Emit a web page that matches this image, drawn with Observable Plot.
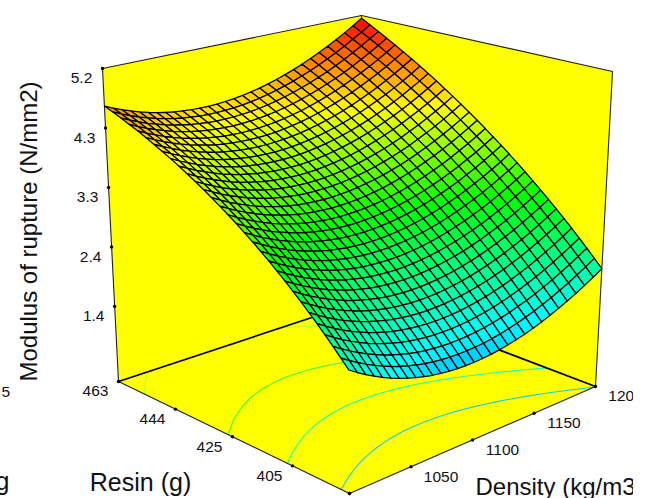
<!DOCTYPE html>
<html><head><meta charset="utf-8">
<style>html,body{margin:0;padding:0;background:#fff;overflow:hidden}svg{display:block}</style>
<script src="https://cdn.jsdelivr.net/npm/d3@7"></script>
<script src="https://cdn.jsdelivr.net/npm/@observablehq/plot@0.6"></script>
</head><body><div id="c"></div><script>
const densityDomain=[1000,1200], resinDomain=[463,386], zDomain=[0.2,5.2];
const zTicks=[1.4,2.35,3.3,4.25,5.2], zLabels=["1.4","2.4","3.3","4.3","5.2"];
const resinTicks=[463,444,425,405,386], densityTicks=[1000,1050,1100,1150,1200];
// Modulus of rupture: one row per resin step (463 -> 386 g),
// one column per density step (1000 -> 1200 kg/m3).
const surface=[
[4.600,4.538,4.481,4.430,4.385,4.345,4.311,4.282,4.259,4.241,4.229,4.222,4.221,4.226,4.236,4.251,4.272,4.299,4.331,4.369,4.412,4.461,4.515,4.575,4.641,4.712,4.788,4.870,4.958,5.051,5.150],
[4.544,4.481,4.423,4.371,4.325,4.284,4.249,4.219,4.195,4.177,4.164,4.156,4.154,4.158,4.167,4.182,4.202,4.228,4.260,4.297,4.339,4.387,4.441,4.500,4.565,4.635,4.711,4.792,4.879,4.971,5.069],
[4.485,4.421,4.363,4.310,4.263,4.221,4.185,4.155,4.130,4.110,4.097,4.088,4.086,4.089,4.097,4.111,4.130,4.155,4.186,4.222,4.264,4.311,4.364,4.423,4.486,4.556,4.631,4.712,4.798,4.890,4.987],
[4.424,4.359,4.300,4.247,4.199,4.156,4.119,4.088,4.062,4.042,4.028,4.019,4.015,4.017,4.025,4.038,4.057,4.081,4.111,4.146,4.187,4.234,4.286,4.344,4.407,4.476,4.550,4.630,4.715,4.806,4.903],
[4.361,4.295,4.235,4.181,4.132,4.089,4.051,4.019,3.993,3.972,3.956,3.946,3.942,3.944,3.950,3.963,3.981,4.004,4.034,4.068,4.109,4.154,4.206,4.263,4.325,4.394,4.467,4.546,4.631,4.722,4.818],
[4.295,4.229,4.168,4.113,4.064,4.020,3.981,3.948,3.921,3.899,3.883,3.873,3.868,3.869,3.875,3.886,3.904,3.927,3.955,3.989,4.029,4.074,4.125,4.181,4.243,4.311,4.384,4.462,4.547,4.636,4.732],
[4.227,4.160,4.099,4.043,3.993,3.948,3.909,3.875,3.847,3.825,3.808,3.797,3.791,3.791,3.797,3.808,3.824,3.846,3.874,3.908,3.947,3.991,4.041,4.097,4.158,4.225,4.297,4.375,4.459,4.548,4.643],
[4.157,4.089,4.027,3.971,3.920,3.874,3.834,3.800,3.771,3.748,3.731,3.719,3.713,3.712,3.717,3.727,3.743,3.765,3.792,3.824,3.863,3.907,3.956,4.011,4.072,4.138,4.210,4.287,4.370,4.459,4.553],
[4.085,4.016,3.954,3.896,3.845,3.798,3.758,3.723,3.694,3.670,3.652,3.639,3.632,3.631,3.635,3.645,3.660,3.681,3.708,3.740,3.777,3.821,3.870,3.924,3.984,4.050,4.121,4.198,4.280,4.368,4.462],
[4.010,3.941,3.878,3.820,3.767,3.720,3.679,3.644,3.614,3.589,3.571,3.557,3.550,3.548,3.551,3.560,3.575,3.596,3.622,3.653,3.690,3.733,3.781,3.835,3.895,3.960,4.031,4.107,4.189,4.276,4.369],
[3.933,3.864,3.799,3.741,3.688,3.640,3.598,3.562,3.532,3.507,3.487,3.473,3.465,3.462,3.465,3.474,3.488,3.508,3.533,3.564,3.601,3.643,3.691,3.744,3.803,3.868,3.938,4.013,4.095,4.182,4.274],
[3.854,3.784,3.719,3.660,3.606,3.558,3.516,3.479,3.448,3.422,3.402,3.388,3.379,3.376,3.378,3.386,3.400,3.419,3.444,3.474,3.510,3.552,3.599,3.652,3.710,3.774,3.844,3.919,4.000,4.086,4.179],
[3.773,3.702,3.636,3.576,3.522,3.474,3.431,3.393,3.361,3.335,3.315,3.300,3.290,3.287,3.289,3.296,3.309,3.328,3.352,3.382,3.418,3.459,3.505,3.558,3.616,3.679,3.749,3.823,3.904,3.990,4.081],
[3.689,3.618,3.551,3.491,3.436,3.387,3.344,3.306,3.273,3.247,3.225,3.210,3.200,3.196,3.197,3.204,3.217,3.235,3.259,3.288,3.323,3.364,3.410,3.462,3.519,3.583,3.651,3.726,3.806,3.891,3.982],
[3.603,3.531,3.464,3.404,3.348,3.298,3.254,3.216,3.183,3.156,3.134,3.118,3.108,3.103,3.104,3.110,3.122,3.140,3.163,3.192,3.227,3.267,3.313,3.364,3.422,3.484,3.553,3.626,3.706,3.791,3.882],
[3.515,3.442,3.375,3.314,3.258,3.208,3.163,3.124,3.091,3.063,3.041,3.024,3.014,3.008,3.009,3.015,3.026,3.044,3.067,3.095,3.129,3.169,3.214,3.265,3.322,3.384,3.452,3.526,3.605,3.690,3.780],
[3.425,3.351,3.284,3.222,3.165,3.115,3.070,3.030,2.996,2.968,2.945,2.928,2.917,2.911,2.911,2.917,2.928,2.945,2.968,2.996,3.029,3.069,3.114,3.164,3.221,3.282,3.350,3.423,3.502,3.586,3.676],
[3.332,3.258,3.190,3.128,3.071,3.020,2.974,2.934,2.900,2.871,2.848,2.831,2.819,2.813,2.813,2.818,2.829,2.845,2.867,2.895,2.928,2.967,3.012,3.062,3.118,3.179,3.247,3.319,3.398,3.482,3.572],
[3.237,3.163,3.094,3.031,2.974,2.922,2.876,2.836,2.801,2.772,2.749,2.731,2.719,2.712,2.712,2.716,2.727,2.743,2.765,2.792,2.825,2.864,2.908,2.958,3.014,3.075,3.142,3.214,3.292,3.376,3.466],
[3.140,3.065,2.996,2.933,2.875,2.823,2.777,2.736,2.701,2.671,2.647,2.629,2.617,2.610,2.609,2.613,2.623,2.639,2.660,2.687,2.720,2.758,2.802,2.852,2.907,2.968,3.035,3.107,3.185,3.268,3.357],
[3.040,2.965,2.896,2.832,2.774,2.721,2.675,2.634,2.598,2.568,2.544,2.526,2.513,2.506,2.504,2.508,2.518,2.533,2.554,2.581,2.613,2.651,2.695,2.744,2.799,2.860,2.926,2.998,3.076,3.159,3.248],
[2.938,2.863,2.793,2.729,2.671,2.618,2.571,2.529,2.493,2.463,2.439,2.420,2.407,2.399,2.397,2.401,2.410,2.426,2.446,2.473,2.505,2.543,2.586,2.635,2.690,2.750,2.816,2.888,2.965,3.048,3.137],
[2.834,2.758,2.688,2.624,2.565,2.512,2.464,2.423,2.386,2.356,2.331,2.312,2.299,2.291,2.289,2.292,2.301,2.316,2.337,2.363,2.395,2.432,2.475,2.524,2.579,2.639,2.704,2.776,2.853,2.936,3.024],
[2.728,2.652,2.581,2.517,2.457,2.404,2.356,2.314,2.278,2.247,2.222,2.202,2.189,2.180,2.178,2.181,2.190,2.205,2.225,2.251,2.283,2.320,2.363,2.411,2.466,2.526,2.591,2.663,2.739,2.822,2.910],
[2.619,2.543,2.472,2.407,2.348,2.294,2.246,2.203,2.167,2.136,2.110,2.091,2.077,2.068,2.066,2.069,2.077,2.092,2.112,2.137,2.169,2.206,2.249,2.297,2.351,2.411,2.476,2.547,2.624,2.707,2.795],
[2.508,2.432,2.361,2.295,2.236,2.182,2.133,2.091,2.054,2.022,1.997,1.977,1.963,1.954,1.951,1.954,1.963,1.977,1.997,2.022,2.053,2.090,2.133,2.181,2.235,2.295,2.360,2.431,2.508,2.590,2.678],
[2.395,2.318,2.247,2.181,2.121,2.067,2.019,1.976,1.939,1.907,1.881,1.861,1.847,1.838,1.835,1.838,1.846,1.860,1.880,1.905,1.936,1.973,2.015,2.063,2.117,2.177,2.242,2.313,2.389,2.471,2.559],
[2.280,2.203,2.131,2.065,2.005,1.951,1.902,1.859,1.822,1.790,1.764,1.744,1.729,1.720,1.717,1.719,1.727,1.741,1.761,1.786,1.817,1.853,1.896,1.944,1.997,2.057,2.122,2.193,2.269,2.351,2.439],
[2.162,2.085,2.013,1.947,1.887,1.832,1.783,1.740,1.702,1.671,1.644,1.624,1.609,1.600,1.597,1.599,1.607,1.621,1.640,1.666,1.696,1.733,1.775,1.823,1.877,1.936,2.001,2.072,2.148,2.230,2.318],
[2.042,1.965,1.893,1.827,1.766,1.711,1.662,1.619,1.581,1.549,1.523,1.502,1.487,1.478,1.475,1.477,1.485,1.498,1.518,1.543,1.574,1.610,1.652,1.700,1.754,1.813,1.878,1.948,2.025,2.107,2.194],
[1.920,1.842,1.770,1.704,1.643,1.588,1.539,1.496,1.458,1.426,1.399,1.379,1.364,1.355,1.351,1.353,1.361,1.375,1.394,1.419,1.450,1.486,1.528,1.576,1.629,1.689,1.754,1.824,1.901,1.983,2.070]
];
const levels=[4.4,3.58,2.84,2.05], levelColors=["#b4ff3c","#3cff3c","#1effaa","#1ec8f0"];
const colorDomain=[0.55,1.6,2.95,4.05,5.15], colorRange=["#0000ff","#00ffff","#00ff00","#ffff00","#ff0000"];
const floorView=[[118,381],[366,299],[595,386],[349,493]], topView=[[102,68],[361,15],[612,71],[347,134]];
const nv=surface.length-1, nu=surface[0].length-1;
const bil=(q,u,v)=>[0,1].map(k=>q[0][k]*(1-u)*(1-v)+q[1][k]*u*(1-v)+q[2][k]*u*v+q[3][k]*(1-u)*v);
function proj(den,res,z){const u=(den-densityDomain[0])/(densityDomain[1]-densityDomain[0]),v=(res-resinDomain[0])/(resinDomain[1]-resinDomain[0]),t=(z-zDomain[0])/(zDomain[1]-zDomain[0]);
 const f=bil(floorView,u,v),g=bil(topView,u,v);return [f[0]+(g[0]-f[0])*t,f[1]+(g[1]-f[1])*t]}
const den=i=>densityDomain[0]+(densityDomain[1]-densityDomain[0])*i/nu;
const res=j=>resinDomain[0]+(resinDomain[1]-resinDomain[0])*j/nv;
const [dL,dH]=densityDomain,[rB,rF]=resinDomain,[zL,zH]=zDomain;
const pt=(id,d,r,z)=>{const p=proj(d,r,z);return {id,x:p[0],y:p[1]}};
const poly=(id,a)=>a.map(c=>pt(id,...c));
const walls=[...poly("left",[[dL,rB,zL],[dH,rB,zL],[dH,rB,zH],[dL,rB,zH]]),...poly("right",[[dH,rB,zL],[dH,rF,zL],[dH,rF,zH],[dH,rB,zH]]),...poly("floor",[[dL,rB,zL],[dH,rB,zL],[dH,rF,zL],[dL,rF,zL]])];
const thin=[...poly("a",[[dL,rB,zL],[dL,rB,zH],[dH,rB,zH],[dH,rF,zH],[dH,rF,zL]]),...poly("b",[[dL,rB,zL],[dL,rF,zL],[dH,rF,zL]]),...poly("c",[[dH,rB,zL],[dH,rB,zH]])];
const thick=poly("d",[[dL,rB,zL],[dH,rB,zL],[dH,rF,zL]]);
const quads=[];
for(const s of d3.range(-nv,nu).sort((a,b)=>b-a))for(let j=0;j<nv;j++){const i=s+j;if(i<0||i>=nu)continue;
 const c=[[i,j],[i+1,j],[i+1,j+1],[i,j+1],[i,j]];const m=(surface[j][i]+surface[j][i+1]+surface[j+1][i]+surface[j+1][i+1])/4;
 for(const [a,b] of c){const p=proj(den(a),res(b),surface[b][a]);quads.push({id:i+"-"+j,x:p[0],y:p[1],z:m})}}
const contourPts=[];
levels.forEach((lev,k)=>{const cs=d3.contours().size([nu+1,nv+1]).smooth(true).contour(surface.flat(),lev);let run=0;
 for(const pg of cs.coordinates)for(const ring of pg){run++;for(const [x,y] of ring){
  if(x>=.5&&x<=nu+.5&&y>=.5&&y<=nv+.5){const p=proj(den(x-.5),res(y-.5),zL);contourPts.push({id:k+"-"+run,x:p[0],y:p[1],c:levelColors[k]})}else run++}}});
const tz=zTicks.map((z,i)=>{const p=proj(dL,rB,z);return{x:p[0],y:p[1],t:zLabels[i]}});
const tr=resinTicks.map(r=>{const p=proj(dL,r,zL);return{x:p[0],y:p[1],t:String(r)}});
const td=densityTicks.map(d=>{const p=proj(d,rF,zL);return{x:p[0],y:p[1],t:String(d)}});
const font="Liberation Sans, Arial, sans-serif";
const chart=Plot.plot({width:633,height:498,margin:0,style:{background:"transparent",fontFamily:font},
 x:{domain:[0,633],range:[0,633],axis:null},y:{domain:[0,498],range:[0,498],axis:null},
 color:{type:"linear",domain:colorDomain,range:colorRange},
 marks:[
  Plot.line(walls,{x:"x",y:"y",z:"id",fill:"#ffff00",stroke:"none"}),
  Plot.line(contourPts,{x:"x",y:"y",z:"id",stroke:"c",strokeWidth:1.1}),
  Plot.line(thick,{x:"x",y:"y",z:"id",stroke:"#000",strokeWidth:1.7}),
  Plot.line(thin,{x:"x",y:"y",z:"id",stroke:"#222",strokeWidth:1.1}),
  Plot.line(quads,{x:"x",y:"y",z:"id",fill:"z",stroke:"#000",strokeWidth:1.25,strokeLinejoin:"round"}),
  Plot.dot([...tz,...tr,...td],{x:"x",y:"y",r:1.7,fill:"#000",stroke:"none"}),
  Plot.text(tz,{x:"x",y:"y",text:"t",dx:-21,dy:10,fontSize:15.5,fill:"#111"}),
  Plot.text(tr,{x:"x",y:"y",text:"t",dx:-23,dy:10,fontSize:15.5,fill:"#111"}),
  Plot.text(td,{x:"x",y:"y",text:"t",dx:30,dy:10,fontSize:15.5,fill:"#111"}),
  Plot.text(["Modulus of rupture (N/mm2)"],{x:()=>29,y:()=>231,rotate:-90,fontSize:24,fill:"#111"}),
  Plot.text(["Resin (g)"],{x:()=>140,y:()=>482,fontSize:25,fill:"#111"}),
  Plot.text(["Density (kg/m3)"],{x:()=>475,y:()=>487,textAnchor:"start",fontSize:24,fill:"#111"}),
  Plot.text(["5"],{x:()=>1,y:()=>392,textAnchor:"start",fontSize:15.5,fill:"#111"}),
  Plot.text(["g"],{x:()=>-5,y:()=>481,textAnchor:"start",fontSize:25,fill:"#111"})
 ]});
document.getElementById("c").append(chart);
</script></body></html>
